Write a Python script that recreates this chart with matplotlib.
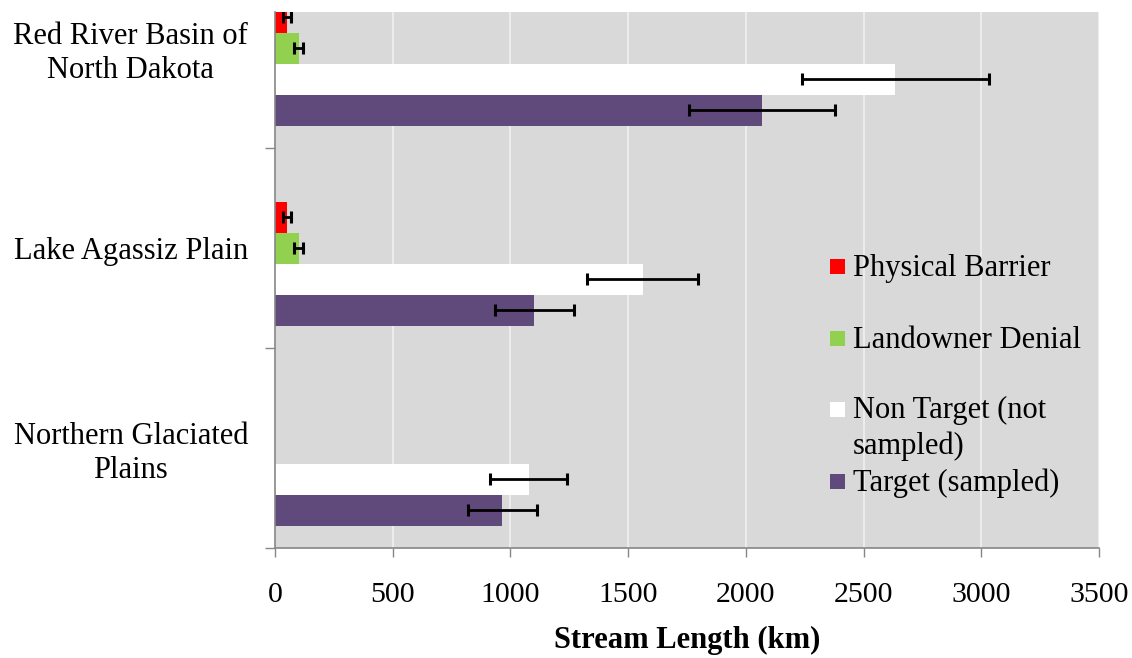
import matplotlib
matplotlib.use("Agg")
import matplotlib.pyplot as plt
from matplotlib.patches import Rectangle

# ---- data (bottom category first) ----
categories = ["Northern Glaciated\nPlains", "Lake Agassiz Plain", "Red River Basin of\nNorth Dakota"]
series_names = ["Physical Barrier", "Landowner Denial", "Non Target (not\nsampled)", "Target (sampled)"]
series_colors = ["#FF0000", "#92D050", "#FFFFFF", "#604A7B"]

physical_barrier = [0, 52, 52]
physical_barrier_err = [0, 18, 18]
landowner_denial = [0, 100, 100]
landowner_denial_err = [0, 20, 20]
non_target = [1077, 1561, 2635]
non_target_err = [163, 234, 397]
target = [966, 1102, 2068]
target_err = [145, 167, 311]

x_ticks = [0, 500, 1000, 1500, 2000, 2500, 3000, 3500]
x_label = "Stream Length (km)"

values = [physical_barrier, landowner_denial, non_target, target]
errors = [physical_barrier_err, landowner_denial_err, non_target_err, target_err]
offsets = [0.155, 0.0, -0.155, -0.31]
bar_h = 0.155

plt.rcParams["font.family"] = ["Liberation Serif", "DejaVu Serif"]
FS = 22
FS_TICK = 21.5

W, H = 1132, 658
fig = plt.figure(figsize=(W / 100, H / 100), dpi=100)
ax_l, ax_r, ax_t, ax_b = 275, 1099, 12, 548
ax = fig.add_axes([ax_l / W, (H - ax_b) / H, (ax_r - ax_l) / W, (ax_b - ax_t) / H])
ax.set_facecolor("#D9D9D9")

ypos = list(range(len(categories)))
for vals, errs, off, col in zip(values, errors, offsets, series_colors):
    ys = [y + off for y in ypos]
    ax.barh(ys, vals, height=bar_h, color=col, edgecolor="none", zorder=2)
    ey = [y for y, v in zip(ys, vals) if v > 0]
    ex = [v for v in vals if v > 0]
    ee = [e for v, e in zip(vals, errs) if v > 0]
    ax.errorbar(ex, ey, xerr=ee, fmt="none", ecolor="black", elinewidth=2.0,
                capsize=4.0, capthick=2.2, zorder=3)

ax.set_xlim(0, 3500)
ax.set_ylim(-0.5, 2.18)
ax.set_xticks(x_ticks)
ax.set_xticklabels([str(t) for t in x_ticks], fontsize=FS_TICK)
ax.xaxis.grid(True, color="#F2F2F2", linewidth=1.1, zorder=1)
ax.set_axisbelow(True)

# y axis: boundary ticks (major) + category labels (minor)
ax.set_yticks([-0.5, 0.5, 1.5])
ax.set_yticklabels([])
ax.set_yticks(ypos, minor=True)
ax.set_yticklabels(categories, minor=True, fontsize=FS, linespacing=1.22,
                   multialignment="center")
ax.tick_params(axis="y", which="major", length=7.2, width=1.0, color="#868686", direction="out")
ax.tick_params(axis="y", which="minor", length=0, pad=19.4)
ax.tick_params(axis="x", which="major", length=6.5, width=1.0, color="#868686",
               direction="out", pad=18)

for s in ["top", "right"]:
    ax.spines[s].set_visible(False)
for s in ["left", "bottom"]:
    ax.spines[s].set_color("#868686")
    ax.spines[s].set_linewidth(1.2)

ax.set_xlabel(x_label, fontsize=FS, fontweight="bold", va="baseline")
ax.xaxis.set_label_coords(0.5, (ax_b - 648) / (ax_b - ax_t))

# ---- legend (manual, Excel-like) ----
def fx(px):
    return (px - ax_l) / (ax_r - ax_l)

def fy(py):
    return (ax_b - py) / (ax_b - ax_t)

leg_centers = [266.5, 338, 409.5, 481.5]
line_step = 35
for name, col, cy in zip(series_names, series_colors, leg_centers):
    ax.add_patch(Rectangle((fx(830), fy(cy + 7.5)), fx(845) - fx(830), fy(cy - 7.5) - fy(cy + 7.5),
                           transform=ax.transAxes, facecolor=col, edgecolor="none", zorder=4,
                           clip_on=False))
    n_extra = name.count("\n")
    ax.text(fx(853), fy(cy + 9.5 + n_extra * line_step), name, transform=ax.transAxes,
            fontsize=FS, ha="left", va="baseline", linespacing=1.28, zorder=4)

fig.savefig("out.png", dpi=100)
